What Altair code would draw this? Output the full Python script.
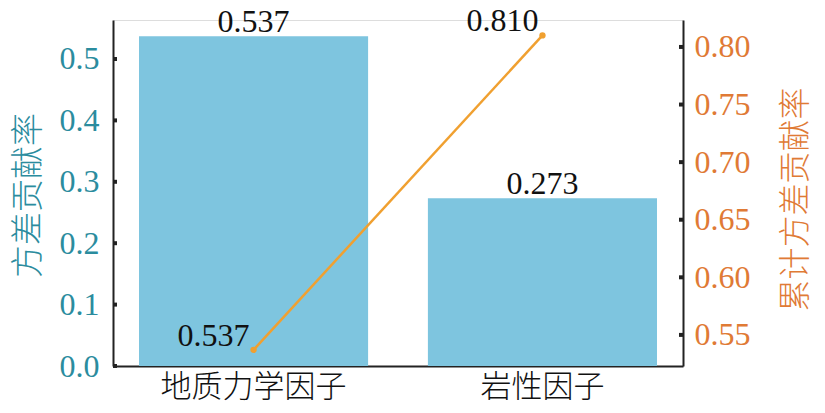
import altair as alt
import pandas as pd

categories = ["地质力学因子", "岩性因子"]
variance = [0.537, 0.273]
cumulative = [0.537, 0.810]
left_ticks = [0.0, 0.1, 0.2, 0.3, 0.4, 0.5]
right_ticks = [0.55, 0.60, 0.65, 0.70, 0.75, 0.80]

df = pd.DataFrame({"cat": categories, "var": variance, "cum": cumulative})
df["var_lbl"] = [f"{v:.3f}" for v in variance]
df["cum_lbl"] = [f"{v:.3f}" for v in cumulative]
lt = pd.DataFrame({"var": left_ticks})
rt = pd.DataFrame({"cum": right_ticks})

SERIF = "Liberation Serif"
CJK = "Noto Sans CJK SC"
TEAL = "#2b8c9e"
ORANGE = "#e07a35"
LINE = "#f0a030"
BAR = "#7ec5df"
FS = 32

xenc = alt.X("cat:N", sort=categories, title=None,
             scale=alt.Scale(paddingInner=0.207, paddingOuter=0.09),
             axis=alt.Axis(labelAngle=0, labelFont=CJK, labelFontSize=31,
                           labelFontWeight=300, labelLimit=400,
                           labelColor="#111", ticks=False, domainColor="#222",
                           domainWidth=2, labelPadding=6))

yl = alt.Scale(domain=[0, 0.5635], nice=False, zero=False)
yr = alt.Scale(domain=[0.523, 0.8234], nice=False, zero=False)

axl = alt.Axis(values=left_ticks, format=".1f", ticks=False,
               labelFont=SERIF, labelFontSize=FS, labelColor=TEAL,
               titleFont=CJK, titleFontSize=33, titleColor=TEAL,
               titleFontWeight=300, titleAngle=270, titleX=-85, titleY=175,
               titleAlign="center", titleBaseline="middle",
               domainColor="#222", domainWidth=2, labelPadding=14, grid=False)
axr = alt.Axis(orient="right", values=right_ticks, format=".2f",
               ticks=False, labelFont=SERIF, labelFontSize=FS,
               labelColor=ORANGE, titleFont=CJK, titleFontSize=32,
               titleColor=ORANGE, titleFontWeight=300, titleAngle=270,
               titleX=112, titleY=179, titleAlign="center",
               titleBaseline="middle",
               domainColor="#222", domainWidth=2, labelPadding=11, grid=False)

def yL():
    return alt.Y("var:Q", scale=yl, title="方差贡献率", axis=axl)

def yR():
    return alt.Y("cum:Q", scale=yr, title="累计方差贡献率", axis=axr)

def xC():
    return alt.X("cat:N", sort=categories)

bars = alt.Chart(df).mark_bar(color=BAR).encode(x=xenc, y=yL())
bar_txt = alt.Chart(df).mark_text(font=SERIF, fontSize=FS, color="#111",
                                  baseline="alphabetic", dy=-4).encode(
    x=xC(), y=yL(), text="var_lbl:N")
lticks = alt.Chart(lt).mark_rule(color="#222", strokeWidth=4).encode(
    x=alt.value(0), x2=alt.value(4), y=yL())
left = alt.layer(bars, bar_txt, lticks)

line = alt.Chart(df).mark_line(color=LINE, strokeWidth=2.5,
                               point=alt.OverlayMarkDef(color=LINE, size=40, filled=True)).encode(
    x=xC(), y=yR())
line_txt = alt.Chart(df).mark_text(font=SERIF, fontSize=FS, color="#111",
                                   baseline="alphabetic", dx=-40, dy=-4).encode(
    x=xC(), y=yR(), text="cum_lbl:N")
rticks = alt.Chart(rt).mark_rule(color="#222", strokeWidth=4).encode(
    x=alt.value(566), x2=alt.value(570), y=yR())
right = alt.layer(line, line_txt, rticks)

chart = alt.layer(left, right).resolve_scale(y="independent").properties(
    width=570, height=346,
    autosize=alt.AutoSizeParams(type="none"),
    padding={"left": 105, "top": 12, "right": 134, "bottom": 39},
).configure_view(stroke="transparent", strokeWidth=0).configure(background="white")

chart.save("out.html", embed_options={"renderer": "svg", "actions": False})
